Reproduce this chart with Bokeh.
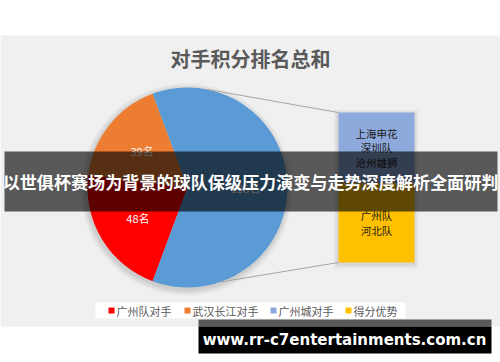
import numpy as np
from bokeh.plotting import figure
from bokeh.models import Range1d
from bokeh.core.properties import value
from bokeh.embed import file_html
from bokeh.resources import INLINE

# ---------------- data ----------------
title = "对手积分排名总和"
pie_names = ["广州队对手", "武汉长江对手", "广州城对手"]
pie_values = [48, 39, 138]
pie_texts = ["48名", "39名", "138名"]
bar_series = ["广州城对手", "得分优势"]
bar_values = [65, 73]
bar_names = [["上海申花", "深圳队", "沧州雄狮"], ["广州队", "河北队"]]
legend_labels = ["广州队对手", "武汉长江对手", "广州城对手", "得分优势"]
banner_text = "以世俱杯赛场为背景的球队保级压力演变与走势深度解析全面研判"
watermark_text = "www.rr-c7entertainments.com.cn"

# ---------------- style ----------------
W, H = 500, 362
pie_colors = ["#FF0000", "#ED7D31", "#5B9BD5"]
bar_colors = ["#8EA9DB", "#FFC000"]
legend_colors = ["#FF0000", "#ED7D31", "#8EA9DB", "#FFC000"]
CJK = value("Noto Sans CJK SC")

def Y(py):
    return H - py

p = figure(width=W, height=H, x_range=Range1d(0, W), y_range=Range1d(0, H),
           output_backend="svg", toolbar_location=None, min_border=0)
p.axis.visible = False
p.grid.visible = False
p.outline_line_color = None
p.background_fill_color = "white"
p.border_fill_color = "white"

# chart area background with fine diagonal stripes
p.quad(left=0, right=W, top=Y(35), bottom=Y(326), fill_color="#f6f6f6", line_color=None,
       hatch_pattern="\\", hatch_color="#e9e9e9", hatch_scale=4, hatch_weight=1)

# title
p.text(x=[250], y=[Y(58)], text=[title], text_font=CJK, text_font_size="20px",
       text_color="#595959", text_align="center", text_baseline="middle", text_font_style="bold")

# ---------------- pie ----------------
cx, cy, r = 187, 187, 100
start_cw = 200.4
total = sum(pie_values)
cum = np.concatenate([[0], np.cumsum(pie_values)]) / total * 360.0 + start_cw
a0 = cum[:-1]
a1 = cum[1:]

# soft shadow
for k in range(1, 8):
    p.circle(x=[cx - 1], y=[Y(cy + 2)], radius=r + k * 0.9, fill_color="black",
             fill_alpha=0.018, line_color=None)

p.wedge(x=[cx] * 3, y=[Y(cy)] * 3, radius=r,
        start_angle=list(np.radians(90 - a1)), end_angle=list(np.radians(90 - a0)),
        direction="anticlock", fill_color=pie_colors, line_color=None)

mid = (a0 + a1) / 2
lr = 0.58 * r
lx = cx + lr * np.sin(np.radians(mid))
ly = cy - lr * np.cos(np.radians(mid))
p.text(x=list(lx), y=[Y(v) for v in ly], text=pie_texts, text_font=CJK, text_font_size="11px",
       text_color="white", text_align="center", text_baseline="middle")

# ---------------- bar ----------------
bx0, bx1, btop, bbot = 338, 414, 112, 262
scale = (bbot - btop) / sum(bar_values)
edges = btop + np.concatenate([[0], np.cumsum(bar_values)]) * scale

for k in range(1, 6):
    p.quad(left=bx0 - k * 0.8 - 1, right=bx1 + k * 0.8, top=Y(btop - k * 0.8 + 1),
           bottom=Y(bbot + k * 0.8 + 2), fill_color="black", fill_alpha=0.02, line_color=None)

p.quad(left=[bx0] * 2, right=[bx1] * 2, top=[Y(v) for v in edges[:-1]],
       bottom=[Y(v) for v in edges[1:]], fill_color=bar_colors, line_color=None)

bcx = (bx0 + bx1) / 2
for i, names in enumerate(bar_names):
    segc = (edges[i] + edges[i + 1]) / 2
    n = len(names)
    step = 14.5
    ys = [segc + (j - (n - 1) / 2) * step for j in range(n)]
    p.text(x=[bcx] * n, y=[Y(v) for v in ys], text=names, text_font=CJK, text_font_size="10.5px",
           text_color="#1a1a1a", text_align="center", text_baseline="middle")

# connector lines
top_cw, bot_cw = 11.4, 161.0
tpx = cx + r * np.sin(np.radians(top_cw)); tpy = cy - r * np.cos(np.radians(top_cw))
bpx = cx + r * np.sin(np.radians(bot_cw)); bpy = cy - r * np.cos(np.radians(bot_cw))
p.segment(x0=[tpx, bpx], y0=[Y(tpy), Y(bpy)], x1=[bx0, bx0], y1=[Y(btop), Y(bbot)],
          line_color="#a6a6a6", line_width=1)

# ---------------- legend ----------------
p.quad(left=95, right=405, top=Y(302), bottom=Y(318), fill_color="white", line_color=None)
leg_x = [111, 187, 273, 348]
for xx, lab, col in zip(leg_x, legend_labels, legend_colors):
    p.quad(left=xx - 3, right=xx + 3, top=Y(307), bottom=Y(313), fill_color=col, line_color=None)
p.text(x=[xx + 5 for xx in leg_x], y=[Y(310)] * 4, text=legend_labels, text_font=CJK,
       text_font_size="11px", text_color="#595959", text_align="left", text_baseline="middle")

# ---------------- banner overlay ----------------
p.quad(left=4, right=497, top=Y(151), bottom=Y(211), fill_color="black", fill_alpha=0.63,
       line_color=None)
p.text(x=[250], y=[Y(181)], text=[banner_text], text_font=CJK, text_font_size="17.1px",
       text_font_style="bold", text_color="white", text_align="center", text_baseline="middle")

# ---------------- watermark ----------------
p.quad(left=198, right=491, top=Y(319), bottom=Y(326), fill_color="#5a5a5a", line_color=None)
p.quad(left=198, right=491, top=Y(326), bottom=Y(353), fill_color="black", line_color=None)
p.text(x=[344], y=[Y(339)], text=[watermark_text], text_font=value("DejaVu Sans"),
       text_font_size="15px", text_font_style="bold", text_color="white",
       text_align="center", text_baseline="middle")

open("out.html", "w").write(file_html(p, INLINE))
